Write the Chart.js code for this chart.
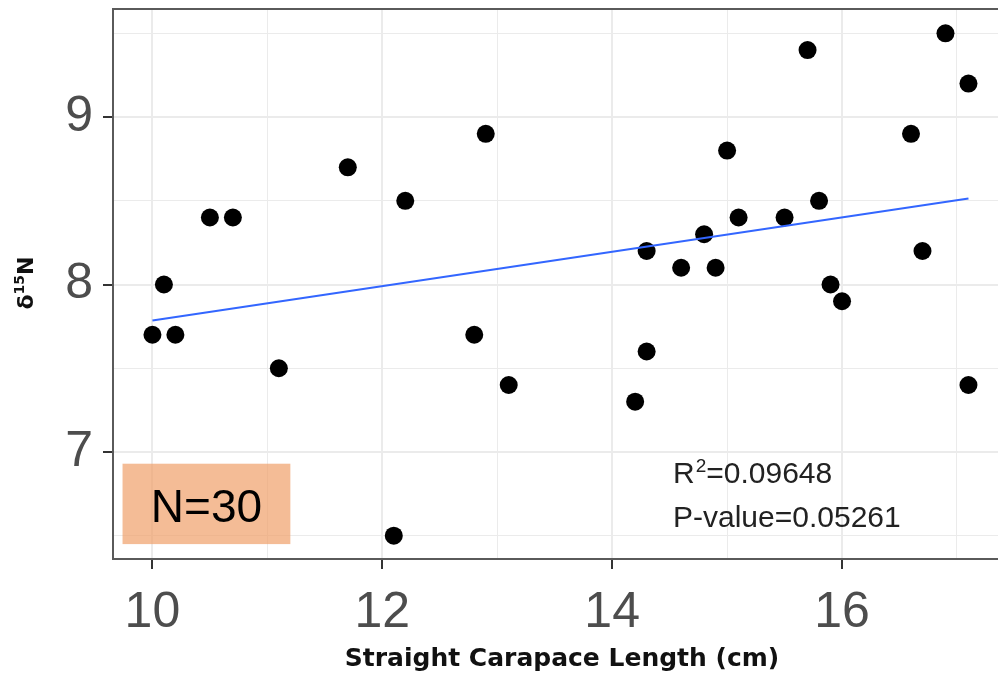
<html>
<head>
<style>
  body { margin: 0; background: #ffffff; }
  canvas { display: block; }
</style>
</head>
<body>
    <canvas id="myChart" width="998" height="677"></canvas>
</body>
<script type="text/javascript" src="https://cdn.jsdelivr.net/npm/chart.js@4/dist/chart.umd.min.js"></script>
<script>
// carapace length (cm) and delta 15N
var sclValues = [10.0, 10.1, 10.2, 10.5, 10.7, 11.1, 11.7, 12.1, 12.2, 12.8,
                 12.9, 13.1, 14.2, 14.3, 14.3, 14.6, 14.8, 14.9, 15.0, 15.1,
                 15.5, 15.7, 15.8, 15.9, 16.0, 16.6, 16.7, 16.9, 17.1, 17.1];
var d15nValues = [7.7, 8.0, 7.7, 8.4, 8.4, 7.5, 8.7, 6.5, 8.5, 7.7,
                  8.9, 7.4, 7.3, 8.2, 7.6, 8.1, 8.3, 8.1, 8.8, 8.4,
                  8.4, 9.4, 8.5, 8.0, 7.9, 8.9, 8.2, 9.5, 9.2, 7.4];
// fitted line end points
var fitX = [10, 17.1];
var fitY = [7.785, 8.513];
// tick positions (major ones get a label)
var xTicks = [10, 11, 12, 13, 14, 15, 16, 17];
var xLabels = ['10', '', '12', '', '14', '', '16', ''];
var yTicks = [6.5, 7, 7.5, 8, 8.5, 9, 9.5];
var yLabels = ['', '7', '', '8', '', '9', ''];
var sampleText = 'N=30';
var r2Text = '0.09648';
var pText = '0.05261';

function getPoints(xs, ys) {
    var pts = [];
    for (var i = 0; i < xs.length; i++) {
        pts.push({x: xs[i], y: ys[i]});
    }
    return pts;
}

function noPadding(scale) {
    scale.paddingTop = 0;
    scale.paddingBottom = 0;
    scale.paddingLeft = 0;
    scale.paddingRight = 0;
}

var annotations = {
    id: 'annotations',
    beforeDatasetsDraw: function(chart) {
        var c = chart.ctx, xs = chart.scales.x, ys = chart.scales.y;
        // orange box behind the sample size
        var x0 = xs.getPixelForValue(9.74), x1 = xs.getPixelForValue(11.2);
        var y0 = ys.getPixelForValue(6.93), y1 = ys.getPixelForValue(6.45);
        c.save();
        c.fillStyle = 'rgba(240,160,105,0.7)';
        c.fillRect(x0, y0, x1 - x0, y1 - y0);
        c.restore();
    },
    afterDatasetsDraw: function(chart) {
        var c = chart.ctx, xs = chart.scales.x, ys = chart.scales.y;
        c.save();
        c.fillStyle = '#000000';
        c.font = '46px "Liberation Sans", Arial, sans-serif';
        c.textAlign = 'center';
        c.textBaseline = 'alphabetic';
        var bx = (xs.getPixelForValue(9.74) + xs.getPixelForValue(11.2)) / 2;
        c.fillText(sampleText, bx, 522);

        c.fillStyle = '#222222';
        c.textAlign = 'left';
        var tx = 673;
        c.font = '30px "Liberation Sans", Arial, sans-serif';
        c.fillText('R', tx, 483);
        var w = c.measureText('R').width;
        c.font = '19px "Liberation Sans", Arial, sans-serif';
        c.fillText('2', tx + w + 1, 472);
        var w2 = c.measureText('2').width;
        c.font = '30px "Liberation Sans", Arial, sans-serif';
        c.fillText('=' + r2Text, tx + w + w2 + 1, 483);
        c.fillText('P-value=' + pText, tx, 527);
        c.restore();
    },
    afterDraw: function(chart) {
        var c = chart.ctx, a = chart.chartArea;
        c.save();
        // top border of the panel
        c.strokeStyle = '#5a5a5a';
        c.lineWidth = 2;
        c.beginPath();
        c.moveTo(a.left - 1, a.top);
        c.lineTo(chart.width, a.top);
        c.stroke();

        // axis titles
        c.fillStyle = '#111111';
        c.font = 'bold 25px "DejaVu Sans", sans-serif';
        c.textAlign = 'center';
        c.textBaseline = 'alphabetic';
        c.fillText('Straight Carapace Length (cm)', 562, 666);

        c.translate(33, 283);
        c.rotate(-Math.PI / 2);
        c.textAlign = 'left';
        c.font = 'bold 22px "DejaVu Sans", sans-serif';
        var wd = c.measureText('\u03b4').width;
        c.font = 'bold 14px "DejaVu Sans", sans-serif';
        var w15 = c.measureText('15').width;
        c.font = 'bold 22px "DejaVu Sans", sans-serif';
        var wn = c.measureText('N').width;
        var start = -(wd + w15 + wn) / 2;
        c.fillText('\u03b4', start, 0);
        c.font = 'bold 14px "DejaVu Sans", sans-serif';
        c.fillText('15', start + wd, -9);
        c.font = 'bold 22px "DejaVu Sans", sans-serif';
        c.fillText('N', start + wd + w15, 0);
        c.restore();
    }
};

function isMajor(list, labels, value) {
    var idx = list.indexOf(value);
    return idx >= 0 && labels[idx] !== '';
}

var ctx = document.getElementById('myChart').getContext('2d');
var chart = new Chart(ctx, {
    type: 'scatter',
    data: {
        datasets: [
            {
                type: 'line',
                label: 'fit',
                data: getPoints(fitX, fitY),
                borderColor: '#3366ff',
                borderWidth: 2,
                pointRadius: 0,
                fill: false,
                order: 0
            },
            {
                label: 'd15N',
                data: getPoints(sclValues, d15nValues),
                backgroundColor: '#000000',
                borderWidth: 0,
                pointRadius: 9,
                pointHoverRadius: 9,
                order: 1
            }
        ]
    },
    options: {
        responsive: false,
        animation: false,
        layout: { autoPadding: false, padding: { top: 9, left: 0, right: 0, bottom: 0 } },
        plugins: {
            legend: { display: false },
            tooltip: { enabled: false }
        },
        scales: {
            x: {
                type: 'linear',
                min: 9.657,
                max: 17.357,
                afterBuildTicks: function(scale) {
                    scale.ticks = xTicks.map(function(v) { return {value: v}; });
                },
                afterFit: function(scale) { scale.height = 118; noPadding(scale); },
                ticks: {
                    autoSkip: false,
                    maxRotation: 0,
                    padding: 14,
                    color: '#4d4d4d',
                    font: { family: '"Liberation Sans", Arial, sans-serif', size: 50 },
                    callback: function(value) {
                        var i = xTicks.indexOf(value);
                        return i >= 0 ? xLabels[i] : '';
                    }
                },
                grid: {
                    color: '#ebebeb',
                    lineWidth: function(c) { return isMajor(xTicks, xLabels, c.tick.value) ? 2 : 1; },
                    tickLength: 10,
                    tickWidth: 2,
                    tickColor: function(c) { return isMajor(xTicks, xLabels, c.tick.value) ? '#333333' : 'rgba(0,0,0,0)'; }
                },
                border: { display: true, color: '#5a5a5a', width: 2 }
            },
            y: {
                type: 'linear',
                min: 6.361,
                max: 9.645,
                afterBuildTicks: function(scale) {
                    scale.ticks = yTicks.map(function(v) { return {value: v}; });
                },
                afterFit: function(scale) { scale.width = 113; noPadding(scale); },
                ticks: {
                    autoSkip: false,
                    padding: 10,
                    color: '#4d4d4d',
                    font: { family: '"Liberation Sans", Arial, sans-serif', size: 50 },
                    callback: function(value) {
                        var i = yTicks.indexOf(value);
                        return i >= 0 ? yLabels[i] : '';
                    }
                },
                grid: {
                    color: '#ebebeb',
                    lineWidth: function(c) { return isMajor(yTicks, yLabels, c.tick.value) ? 2 : 1; },
                    tickLength: 10,
                    tickWidth: 2,
                    tickColor: function(c) { return isMajor(yTicks, yLabels, c.tick.value) ? '#333333' : 'rgba(0,0,0,0)'; }
                },
                border: { display: true, color: '#5a5a5a', width: 2 }
            }
        }
    },
    plugins: [annotations]
});
</script>
</html>
